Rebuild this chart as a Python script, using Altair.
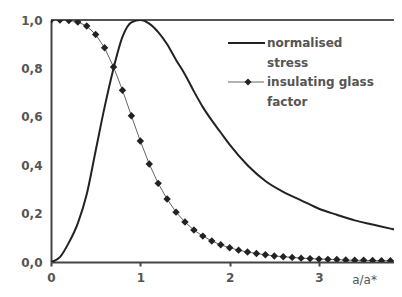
import altair as alt
import pandas as pd

# normalised stress curve
stress_x = [0.0, 0.1, 0.2, 0.3, 0.4, 0.5, 0.6, 0.7, 0.8, 0.9, 1.0, 1.1, 1.2, 1.3, 1.4,
            1.5, 1.6, 1.7, 1.8, 1.9, 2.0, 2.2, 2.4, 2.6, 2.8, 3.0, 3.2, 3.4, 3.6, 3.8, 3.95]
stress_y = [0.0, 0.02, 0.08, 0.16, 0.28, 0.46, 0.64, 0.80, 0.93, 0.99, 1.0, 0.985, 0.95,
            0.90, 0.835, 0.775, 0.705, 0.64, 0.585, 0.535, 0.485, 0.40, 0.335, 0.29,
            0.255, 0.22, 0.195, 0.172, 0.155, 0.138, 0.126]

# insulating glass factor (diamond markers)
glass_x = [0.0, 0.1, 0.2, 0.3, 0.4, 0.5, 0.6, 0.7, 0.8, 0.9, 1.0, 1.1, 1.2, 1.3, 1.4,
           1.5, 1.6, 1.7, 1.8, 1.9, 2.0, 2.1, 2.2, 2.3, 2.4, 2.5, 2.6, 2.7, 2.8, 2.9,
           3.0, 3.1, 3.2, 3.3, 3.4, 3.5, 3.6, 3.7, 3.8, 3.9]
glass_y = [1.0, 1.0, 0.998, 0.992, 0.975, 0.94, 0.885, 0.806, 0.71, 0.604, 0.50, 0.405,
           0.325, 0.26, 0.206, 0.165, 0.132, 0.107, 0.087, 0.071, 0.059, 0.049, 0.041,
           0.035, 0.030, 0.025, 0.022, 0.019, 0.016, 0.014, 0.012, 0.011, 0.010, 0.008,
           0.007, 0.007, 0.006, 0.005, 0.005, 0.004]

x_ticks = [0, 1, 2, 3]
y_ticks = [0.0, 0.2, 0.4, 0.6, 0.8, 1.0]

stress_df = pd.DataFrame({"x": stress_x, "y": stress_y})
glass_df = pd.DataFrame({"x": glass_x, "y": glass_y})

FONT = "DejaVu Sans"
GRAY = "#555555"

xs = alt.Scale(domain=[0, 3.84], nice=False, zero=False)
ys = alt.Scale(domain=[0, 1], nice=False)

x_axis = alt.Axis(values=x_ticks, format="d", title="a/a*", titleX=313, titleY=17,
                  titleAlign="center", titleBaseline="middle", titleFontWeight="normal",
                  titleFont=FONT, titleFontSize=12, titleColor=GRAY,
                  labelFont=FONT, labelFontSize=12, labelFontWeight="bold", labelColor=GRAY,
                  labelPadding=6, tickSize=4, tickWidth=2, tickColor="#444",
                  domainColor="#444", domainWidth=2, grid=False, labelFlush=False)
y_axis = alt.Axis(values=y_ticks, title=None,
                  labelExpr="replace(format(datum.value, '.1f'), '.', ',')",
                  labelFont=FONT, labelFontSize=12, labelFontWeight="bold", labelColor=GRAY,
                  labelPadding=9, ticks=False, domainColor="#444", domainWidth=2,
                  grid=False)

stress = alt.Chart(stress_df).mark_line(color="#222", strokeWidth=2, interpolate="monotone",
                                        clip=True).encode(
    x=alt.X("x:Q", scale=xs, axis=x_axis),
    y=alt.Y("y:Q", scale=ys, axis=y_axis),
)

glass_line = alt.Chart(glass_df).mark_line(color="#666", strokeWidth=1, clip=True).encode(
    x=alt.X("x:Q", scale=xs), y=alt.Y("y:Q", scale=ys))
glass_pts = alt.Chart(glass_df).mark_point(shape="diamond", filled=True, size=55,
                                           color="#222", opacity=1, clip=True).encode(
    x=alt.X("x:Q", scale=xs), y=alt.Y("y:Q", scale=ys))

top_rule = alt.Chart(pd.DataFrame({"y": [1.0]})).mark_rule(color=GRAY, strokeWidth=2).encode(
    y=alt.Y("y:Q", scale=ys))

# legend
leg1 = alt.Chart(pd.DataFrame({"a": [0]})).mark_rule(color="#222", strokeWidth=2).encode(
    x=alt.value(177), x2=alt.value(214), y=alt.value(23))
leg2 = alt.Chart(pd.DataFrame({"a": [0]})).mark_rule(color="#666", strokeWidth=1).encode(
    x=alt.value(177), x2=alt.value(213), y=alt.value(62))
leg2p = alt.Chart(pd.DataFrame({"a": [0]})).mark_point(shape="diamond", filled=True, size=50,
                                                         color="#222", opacity=1).encode(
    x=alt.value(197), y=alt.value(62))
txt_kw = dict(font=FONT, fontSize=12, fontWeight="bold", color=GRAY, align="left",
              baseline="middle", lineHeight=20)
leg1t = alt.Chart(pd.DataFrame({"a": [0]})).mark_text(**txt_kw).encode(
    x=alt.value(216), y=alt.value(23), text=alt.value(["normalised", "stress"]))
leg2t = alt.Chart(pd.DataFrame({"a": [0]})).mark_text(**txt_kw).encode(
    x=alt.value(216), y=alt.value(62), text=alt.value(["insulating glass", "factor"]))

chart = alt.layer(top_rule, glass_line, glass_pts, stress, leg1, leg2, leg2p, leg1t, leg2t).properties(
    width=343, height=242,
    autosize=alt.AutoSizeParams(type="none"),
    padding={"left": 43, "top": 12, "right": 0, "bottom": 27},
).configure_view(stroke=None).configure(background="white")

chart.save("out.html", embed_options={"renderer": "svg", "actions": False})
